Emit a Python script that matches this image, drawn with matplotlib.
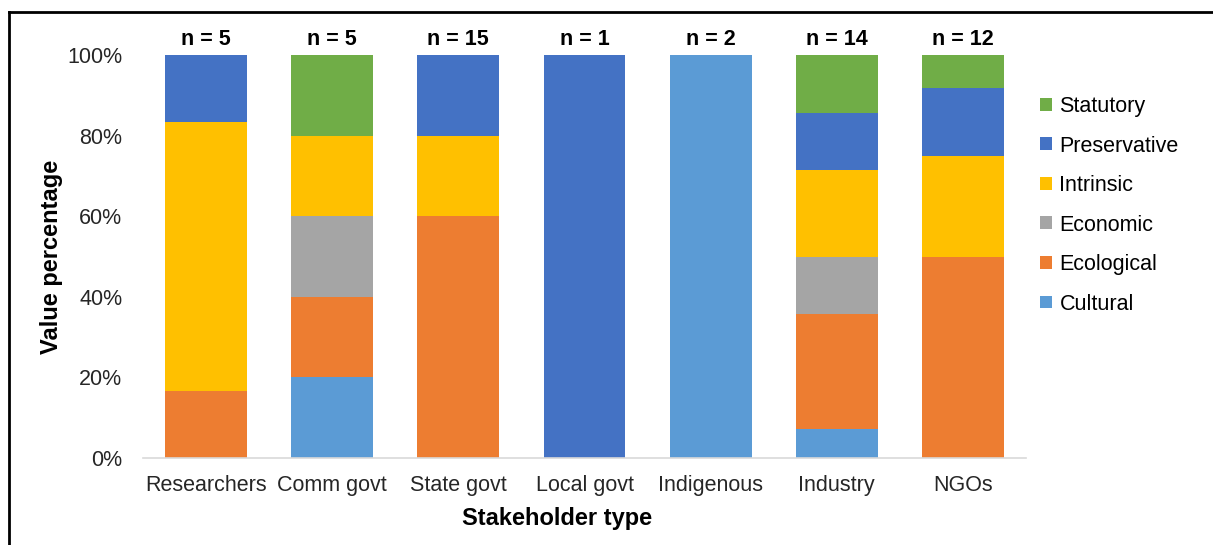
import numpy as np
import matplotlib.pyplot as plt
from matplotlib.lines import Line2D
from matplotlib.patches import Patch

plt.rcParams['font.family'] = ['Liberation Sans', 'DejaVu Sans']

# stakeholder groups and sample sizes
groups = ['Researchers', 'Comm govt', 'State govt', 'Local govt', 'Indigenous', 'Industry', 'NGOs']
n_sizes = [5, 5, 15, 1, 2, 14, 12]

# share of each value type per group (%)
cultural     = [0.0,  20.0, 0.0,  0.0,   100.0, 7.1,  0.0]
ecological   = [16.7, 20.0, 60.0, 0.0,   0.0,   28.6, 50.0]
economic     = [0.0,  20.0, 0.0,  0.0,   0.0,   14.3, 0.0]
intrinsic    = [66.6, 20.0, 20.0, 0.0,   0.0,   21.4, 25.0]
preservative = [16.7, 0.0,  20.0, 100.0, 0.0,   14.3, 16.7]
statutory    = [0.0,  20.0, 0.0,  0.0,   0.0,   14.3, 8.3]

series = [('Cultural', cultural, '#5B9BD5'),
          ('Ecological', ecological, '#ED7D31'),
          ('Economic', economic, '#A5A5A5'),
          ('Intrinsic', intrinsic, '#FFC000'),
          ('Preservative', preservative, '#4472C4'),
          ('Statutory', statutory, '#70AD47')]

fig = plt.figure(figsize=(12.13, 5.45), dpi=100)
ax = fig.add_axes([143/1213, 1 - 458/545, 883/1213, 403/545])

x = np.arange(len(groups))
bottom = np.zeros(len(groups))
for name, vals, col in series:
    ax.bar(x, vals, 0.65, bottom=bottom, color=col, label=name)
    bottom += np.array(vals)

for xi, n in zip(x, n_sizes):
    ax.text(xi, 1.025, f'n = {n}', transform=ax.get_xaxis_transform(),
            ha='center', va='baseline', fontsize=15.5, fontweight='bold')

ax.set_xlim(-0.5, len(groups) - 0.5)
ax.set_ylim(0, 100)
ax.set_yticks(np.arange(0, 101, 20))
ax.set_yticklabels([f'{v}%' for v in range(0, 101, 20)])
ax.set_xticks(x)
ax.set_xticklabels(groups)
ax.tick_params(axis='both', length=0, labelsize=15.5, colors='#262626')
ax.tick_params(axis='y', pad=15)
ax.tick_params(axis='x', pad=12)
for s in ['top', 'right', 'left']:
    ax.spines[s].set_visible(False)
ax.spines['bottom'].set_color('#D9D9D9')
ax.spines['bottom'].set_linewidth(1.2)

ax.set_ylabel('Value percentage', fontsize=17, fontweight='bold', labelpad=3)
ax.set_xlabel('Stakeholder type', fontsize=17, fontweight='bold', labelpad=8)
ax.xaxis.label.set_x(0.469)

handles = [Patch(facecolor=col, label=name) for name, _, col in series][::-1]
ax.legend(handles=handles, loc='center left', bbox_to_anchor=(0.994, 0.627),
          frameon=False, fontsize=15.5, handlelength=0.55, handleheight=0.55,
          handletextpad=0.35, labelspacing=0.86)

# border on the top and left edges
fig.add_artist(Line2D([9/1213, 9/1213], [0, 1 - 12/545], color='black', lw=2, transform=fig.transFigure))
fig.add_artist(Line2D([9/1213, 1], [1 - 12/545, 1 - 12/545], color='black', lw=2, transform=fig.transFigure))

fig.savefig('out.png', dpi=100)
